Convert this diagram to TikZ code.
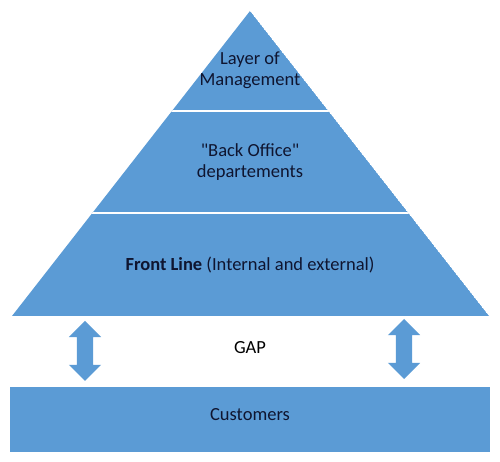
\documentclass[tikz,border=0pt]{standalone}
\usepackage{fontspec}
\setmainfont{Carlito}
\usetikzlibrary{shapes.arrows}
\definecolor{tierblue}{HTML}{5B9BD5}
\definecolor{tiertext}{HTML}{0F1530}

\begin{document}
\begin{tikzpicture}[x=1pt,y=1pt]
        \useasboundingbox (0,0) rectangle (500,462);
        \coordinate (apex) at (250,451);
        \coordinate (baseL) at (12,146);
        \coordinate (baseR) at (489,146);

        % pyramid with white separators
        \begin{scope}
            \clip (apex) -- (baseL) -- (baseR) -- cycle;
            \fill[tierblue] (apex) -- (baseL) -- (baseR) -- cycle;
            \draw[white, line width=2pt] (0,351) -- (500,351);
            \draw[white, line width=2pt] (0,249) -- (500,249);
        \end{scope}

        % customers bar
        \fill[tierblue] (10,10) rectangle (490,75);

        \begin{scope}[every node/.style={font=\fontsize{18.5}{21}\selectfont, text=tiertext, align=center}]
            \node (mgmt) at (250,392) {Layer of\\Management};
            \node (back) at (250,300) {\textquotedbl Back Office\textquotedbl\\departements};
            \node (front) at (250,197) {\textbf{Front Line} (Internal and external)};
            \node (cust) at (250,47) {Customers};
            \node[text=black] (gap) at (250,114) {GAP};
        \end{scope}

        \begin{scope}[every node/.style={shape=double arrow, shape border rotate=90, fill=tierblue, inner sep=0pt,
                minimum width=32pt, minimum height=60pt, double arrow head extend=8pt, text width=16pt}]
            \node (arrL) at (85,111) {};
            \node (arrR) at (404,113) {};
        \end{scope}
    \end{tikzpicture}
\end{document}
